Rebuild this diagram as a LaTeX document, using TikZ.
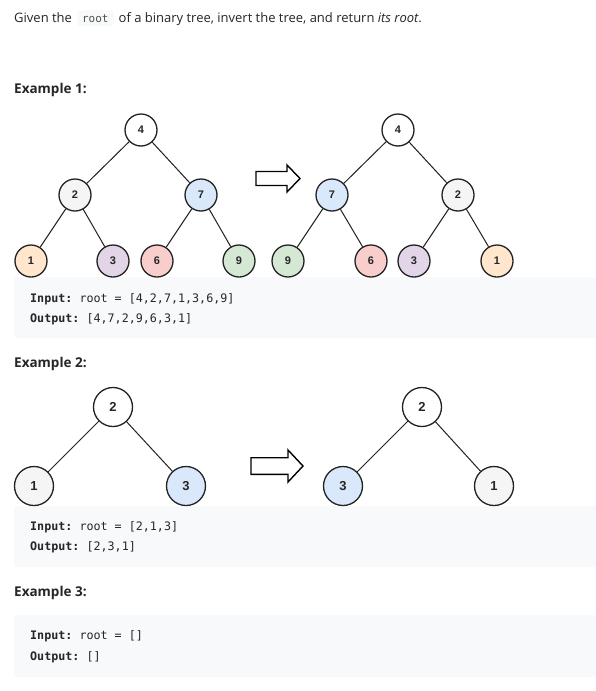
\documentclass[tikz,border=0pt]{standalone}
\usepackage{fontspec}
\setmainfont{Open Sans}
\setmonofont{DejaVu Sans Mono}
\newfontfamily\numfont{Liberation Sans}
\usetikzlibrary{positioning}

\definecolor{ink}{HTML}{262626}
\definecolor{codegray}{HTML}{F7F9FA}
\definecolor{nodeline}{HTML}{222222}
\definecolor{cwhite}{HTML}{FFFFFF}
\definecolor{cgray}{HTML}{F5F5F5}
\definecolor{cblue}{HTML}{DAE8FC}
\definecolor{corange}{HTML}{FFE6CC}
\definecolor{cpurple}{HTML}{E1D5E7}
\definecolor{cred}{HTML}{F8CECC}
\definecolor{cgreen}{HTML}{D5E8D4}

\begin{document}
\begin{tikzpicture}[x=1pt,y=-1pt,
  txt/.style={inner sep=0pt,anchor=base west,text=ink,font=\fontsize{13}{15}\selectfont},
  head/.style={inner sep=0pt,anchor=base west,text=ink,font=\fontsize{13.5}{16}\selectfont\bfseries},
  codeline/.style={inner sep=0pt,anchor=base west,text=ink,font=\ttfamily\fontsize{11.7}{14}\selectfont},
  codeword/.style={fill=codegray,rounded corners=2pt,inner xsep=4.7pt,inner ysep=2.7pt,
    text height=9pt,text depth=1.5pt,anchor=base west,text=ink!80,font=\ttfamily\fontsize{11}{13}\selectfont},
  codebg/.style={fill=codegray,rounded corners=3pt},
  tnode/.style={circle,draw=nodeline,line width=1.3pt,minimum size=32pt,inner sep=0pt,text=ink,
    font=\numfont\bfseries\fontsize{11}{13}\selectfont},
  bnode/.style={tnode,minimum size=39pt,font=\numfont\bfseries\fontsize{13}{15}\selectfont},
  link/.style={draw=nodeline,line width=1pt},
  blockarrow/.style={draw=black,line width=1.4pt,fill=white,line join=miter}
]
  \fill[white] (0,0) rectangle (596,691);
  \useasboundingbox (0,0) rectangle (596,691);

  % intro line
  \node[txt] (given) at (14,22) {Given the};
  \node[codeword] (rootword) at ([xshift=5pt]given.base east) {root};
  \node[txt] (rest) at ([xshift=5pt]rootword.base east) {of a binary tree, invert the tree, and return \textit{its root}.};

  % example 1
  \node[head] (ex1) at (14,93) {Example 1:};
  \fill[codebg] (14,277) rectangle (596,338);
  \foreach \nm/\px/\py/\val/\col in {l4/141/130/4/cwhite, l2/75/195/2/cgray, l7/201/195/7/cblue,
      l1/31/261/1/corange, l3/113/261/3/cpurple, l6/157/261/6/cred, l9/239/261/9/cgreen,
      r4/398/130/4/cwhite, r7/332/195/7/cblue, r2/458/195/2/cgray,
      r9/288/261/9/cgreen, r6/371/261/6/cred, r3/414/261/3/cpurple, r1/497/261/1/corange}
    \node[tnode,fill=\col] (\nm) at (\px,\py) {\val};
  \foreach \a/\b in {l4/l2,l4/l7,l2/l1,l2/l3,l7/l6,l7/l9,r4/r7,r4/r2,r7/r9,r7/r6,r2/r3,r2/r1}
    \draw[link] (\a) -- (\b);
  \draw[blockarrow] (256,171.5) -- (287,171.5) -- (287,165) -- (300,178.5)
    -- (287,192) -- (287,185.5) -- (256,185.5) -- cycle;
  \node[codeline] (in1) at (30,302) {\textbf{Input:} root = [4,2,7,1,3,6,9]};
  \node[codeline] (out1) at (30,322) {\textbf{Output:} [4,7,2,9,6,3,1]};

  % example 2
  \node[head] (ex2) at (14,367) {Example 2:};
  \fill[codebg] (14,506) rectangle (596,567);
  \foreach \nm/\px/\py/\val/\col in {m2/113/407/2/cwhite, m1/34/486/1/cgray, m3/186/486/3/cblue,
      n2/422/407/2/cwhite, n3/343/486/3/cblue, n1/494/486/1/cgray}
    \node[bnode,fill=\col] (\nm) at (\px,\py) {\val};
  \foreach \a/\b in {m2/m1,m2/m3,n2/n3,n2/n1}
    \draw[link] (\a) -- (\b);
  \draw[blockarrow] (251,457.7) -- (288,457.7) -- (288,450) -- (303,466)
    -- (288,482) -- (288,474.3) -- (251,474.3) -- cycle;
  \node[codeline] (in2) at (30,530) {\textbf{Input:} root = [2,1,3]};
  \node[codeline] (out2) at (30,550.5) {\textbf{Output:} [2,3,1]};

  % example 3
  \node[head] (ex3) at (14,596.5) {Example 3:};
  \fill[codebg] (14,615) rectangle (596,677);
  \node[codeline] (in3) at (30,639) {\textbf{Input:} root = []};
  \node[codeline] (out3) at (30,660) {\textbf{Output:} []};
\end{tikzpicture}
\end{document}
